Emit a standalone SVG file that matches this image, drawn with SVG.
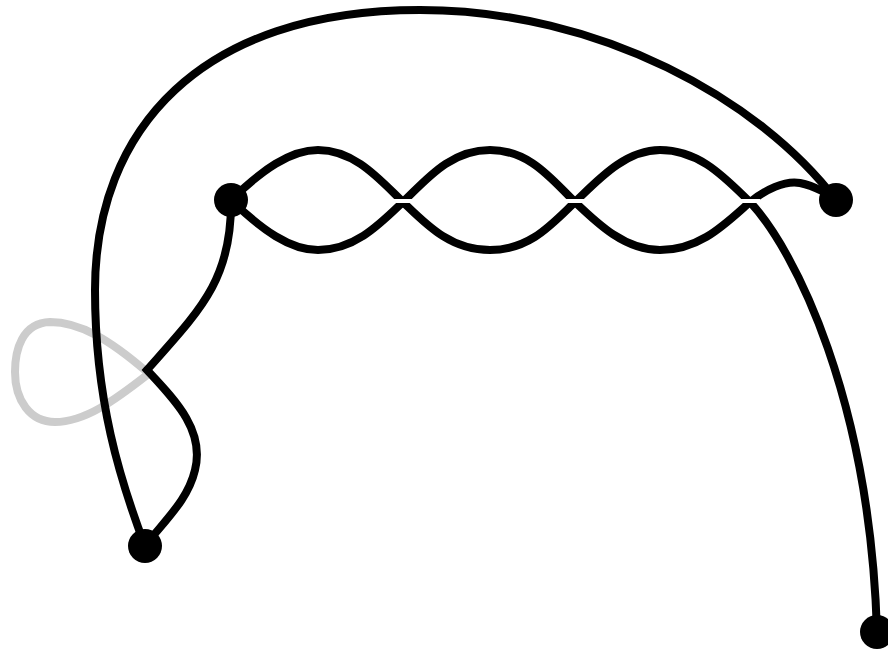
<svg xmlns="http://www.w3.org/2000/svg" width="888" height="649" viewBox="0 0 888 649">
<style>
.e{fill:none;stroke:#000;stroke-width:8;stroke-linecap:round}
.g{fill:none;stroke:#cccccc;stroke-width:8}
.n{fill:#000}
.gap{stroke:#fff;stroke-width:4}
</style>
<rect width="888" height="649" fill="#fff"/>
<g id="connectors">
<path class="g" d="M147,372 C110,340 80,322 50,322 C22,323 15,350 15,372 C15,400 30,422 55,422 C85,422 115,400 147,375"/>
<path class="e" d="M836,200 C760,100 600,10 420,10 C200,10 95,130 95,290 C95,400 120,480 145,546"/>
<path class="e" d="M231,200 C232,280 200,310 147,370 C175,400 205,430 195,470 C188,500 165,520 145,546"/>
<path class="e" d="M231,200 C262,170 290,150 318,150 C355,150 380,180 403,202 C426,224 450,250 490,250 C530,250 552,224 575,202 C598,180 625,150 660,150 C700,150 725,178 750,202 C795,250 870,400 877,632"/>
<path class="e" d="M231,200 C262,230 290,250 318,250 C355,250 380,224 403,202 C426,180 450,150 490,150 C530,150 552,180 575,202 C598,224 625,250 660,250 C700,250 725,224 750,202 C765,190 785,180 800,183 C815,186 830,195 836,200"/>
<line class="gap" x1="393" y1="201" x2="413" y2="201"/>
<line class="gap" x1="565" y1="201" x2="585" y2="201"/>
<line class="gap" x1="740" y1="201" x2="760" y2="201"/>
</g>
<g id="nA"><circle class="n" cx="231" cy="200" r="17"/></g>
<g id="nB"><circle class="n" cx="836" cy="200" r="17"/></g>
<g id="nC"><circle class="n" cx="145" cy="546" r="17"/></g>
<g id="nD"><circle class="n" cx="877" cy="632" r="17"/></g>
</svg>
